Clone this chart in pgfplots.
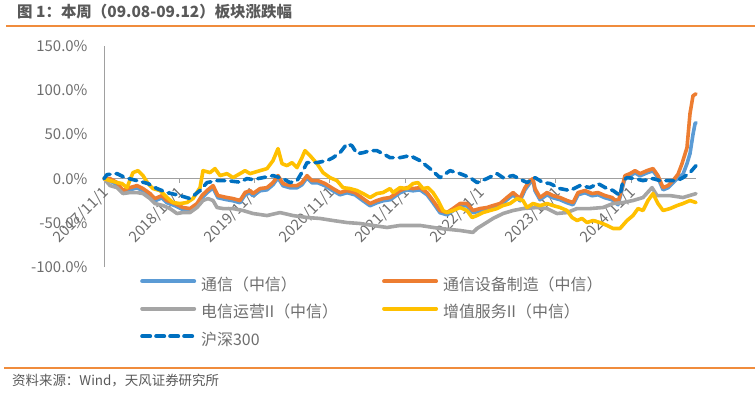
\documentclass[border=0pt]{standalone}
\usepackage{fontspec}
\setmainfont{Noto Sans CJK SC}
\usepackage{pgfplots}
\pgfplotsset{compat=1.18}
\definecolor{ctx}{HTML}{5B9BD5}
\definecolor{csb}{HTML}{ED7D31}
\definecolor{cdx}{HTML}{A5A5A5}
\definecolor{czz}{HTML}{FFC000}
\definecolor{chs}{HTML}{0070C0}
\definecolor{axgray}{HTML}{A0A0A0}
\definecolor{lblgray}{HTML}{6E6E6E}
\definecolor{titlegray}{HTML}{595959}
\definecolor{rule}{HTML}{F08C3C}
\begin{document}
\begin{tikzpicture}[x=1bp,y=1bp]
\useasboundingbox (0,0) rectangle (755,392);
\node[anchor=west, inner sep=0pt, font=\fontsize{15.5}{15.5}\selectfont\bfseries, text=titlegray] at (17,380) {图 1：本周（09.08-09.12）板块涨跌幅};
\draw[rule, line width=2bp] (6,366) -- (755,366);
\draw[rule, line width=1.5bp] (4,24) -- (755,24);
\node[anchor=west, inner sep=0pt, font=\fontsize{13.5}{13.5}\selectfont, text=titlegray] at (12,11) {资料来源：Wind，天风证券研究所};
\begin{axis}[
  at={(104bp,125bp)}, anchor=south west,
  scale only axis, width=592bp, height=221bp,
  xmin=0, xmax=7.862, ymin=-100, ymax=150,
  axis x line=middle, axis y line=left,
  axis line style={-, draw=axgray, line width=1bp},
  hide obscured x ticks=false, hide obscured y ticks=false,
  xtick={0,1,2,3,4,5,6,7},
  xticklabels={2017/11/1,2018/11/1,2019/11/1,2020/11/1,2021/11/1,2022/11/1,2023/11/1,2024/11/1},
  ytick={-100,-50,0,50,100,150},
  yticklabels={-100.0\%,-50.0\%,0.0\%,50.0\%,100.0\%,150.0\%},
  ytick style={draw=none},
  xtick style={draw=axgray, line width=1bp},
  tick align=outside, major tick length=4bp,
  tick label style={font=\fontsize{15}{15}\selectfont, text=lblgray},
  xticklabel style={rotate=45, anchor=east, inner sep=1bp, yshift=-7bp, xshift=-3bp},
  yticklabel style={anchor=east, xshift=-9bp},
  clip=false,
  every axis plot/.append style={line width=3.6bp, line join=round, line cap=round},
  legend columns=2,
  legend style={at={(0.0608,-0.05)}, anchor=north west, draw=none, fill=none, inner sep=0pt,
    font=\fontsize{16}{16}\selectfont, text=lblgray,
    nodes={inner sep=0pt, text height=12bp, text depth=4bp},
    row sep=11.5bp,
    /tikz/every odd column/.append style={column sep=5bp},
    /tikz/every even column/.append style={column sep=44bp}},
  legend cell align=left,
  legend image code/.code={\draw[#1, line width=4bp] (0bp,5bp) -- (52bp,5bp);},
]
% 通信（中信）
\addplot[ctx] coordinates {
(0,0) (0.08,-2.5) (0.173,-7.0) (0.252,-16.0) (0.345,-12.7) (0.438,-10.4) (0.518,-13.8) (0.611,-19.4) (0.677,-25.1) (0.770,-21.7) (0.837,-27.3) (0.943,-30.7) (1.049,-35.2) (1.142,-36.4) (1.235,-30.7) (1.301,-21.7) (1.368,-16.0) (1.448,-10.4) (1.514,-21.7) (1.633,-23.9) (1.713,-25.1) (1.806,-27.3) (1.873,-18.3) (1.939,-16.0) (1.979,-19.4) (2.072,-13.8) (2.165,-12.7) (2.244,-7.0) (2.311,0.9) (2.377,-8.1) (2.470,-10.4) (2.563,-10.4) (2.629,-7.0) (2.696,0.9) (2.762,-4.8) (2.842,-4.8) (2.935,-8.1) (3.041,-13.8) (3.134,-18.3) (3.227,-16.0) (3.333,-18.3) (3.440,-25.1) (3.533,-30.7) (3.625,-27.3) (3.705,-25.1) (3.798,-23.9) (3.838,-21.7) (3.931,-16.0) (4.024,-12.7) (4.104,-13.8) (4.197,-12.7) (4.290,-18.3) (4.369,-27.3) (4.462,-38.6) (4.555,-40.9) (4.635,-36.4) (4.728,-30.7) (4.821,-30.7) (4.900,-38.6) (4.993,-36.4) (5.086,-35.2) (5.166,-33.0) (5.259,-30.7) (5.352,-23.9) (5.432,-18.3) (5.525,-25.1) (5.591,-12.7) (5.657,-4.8) (5.697,-2.5) (5.724,-13.8) (5.790,-23.9) (5.883,-18.3) (5.963,-21.7) (6.056,-23.9) (6.149,-27.3) (6.228,-29.6) (6.295,-18.3) (6.388,-16.0) (6.481,-19.4) (6.560,-18.3) (6.653,-21.7) (6.746,-23.9) (6.826,-29.6) (6.879,-12.7) (6.919,0.9) (6.985,3.1) (7.052,6.5) (7.118,3.1) (7.211,6.5) (7.291,8.8) (7.357,0.9) (7.424,-12.7) (7.490,-10.4) (7.556,-4.8) (7.623,1.0) (7.689,5.0) (7.742,16.9) (7.782,28.2) (7.822,50.0) (7.849,62.1) (7.862,63.2)
};
\addlegendentry{通信（中信）}
% 通信设备制造（中信）
\addplot[csb] coordinates {
(0,0) (0.08,0) (0.173,-4.5) (0.252,-13.5) (0.345,-10.2) (0.438,-7.9) (0.518,-11.3) (0.611,-16.9) (0.677,-22.6) (0.770,-19.2) (0.837,-24.8) (0.943,-28.2) (1.049,-32.7) (1.142,-33.9) (1.235,-28.2) (1.301,-19.2) (1.368,-13.5) (1.448,-7.9) (1.514,-19.2) (1.633,-21.4) (1.713,-22.6) (1.806,-24.8) (1.873,-15.8) (1.939,-13.5) (1.979,-16.9) (2.072,-11.3) (2.165,-10.2) (2.244,-4.5) (2.311,3.4) (2.377,-5.6) (2.470,-7.9) (2.563,-7.9) (2.629,-4.5) (2.696,3.4) (2.762,-2.3) (2.842,-2.3) (2.935,-5.6) (3.041,-11.3) (3.134,-15.8) (3.227,-13.5) (3.333,-15.8) (3.440,-22.6) (3.533,-28.2) (3.625,-24.8) (3.705,-22.6) (3.798,-21.4) (3.838,-19.2) (3.931,-13.5) (4.024,-10.2) (4.104,-11.3) (4.197,-10.2) (4.290,-15.8) (4.369,-24.8) (4.462,-36.1) (4.555,-38.4) (4.635,-33.9) (4.728,-28.2) (4.821,-28.2) (4.900,-36.1) (4.993,-33.9) (5.086,-32.7) (5.166,-30.5) (5.259,-28.2) (5.352,-21.4) (5.432,-15.8) (5.525,-22.6) (5.591,-10.2) (5.657,-2.3) (5.697,0) (5.724,-11.3) (5.790,-21.4) (5.883,-15.8) (5.963,-19.2) (6.056,-21.4) (6.149,-24.8) (6.228,-27.1) (6.295,-15.8) (6.388,-13.5) (6.481,-16.9) (6.560,-15.8) (6.653,-19.2) (6.746,-21.4) (6.826,-27.1) (6.879,-10.2) (6.919,3.4) (6.985,5.6) (7.052,9.0) (7.118,5.6) (7.211,9.0) (7.291,11.3) (7.357,3.4) (7.424,-10.2) (7.490,-7.9) (7.556,-2.3) (7.623,5.0) (7.676,16.9) (7.742,35.0) (7.782,73.4) (7.822,93.7) (7.862,95.9)
};
\addlegendentry{通信设备制造（中信）}
% 电信运营II（中信）
\addplot[cdx] coordinates {
(0,0) (0.08,-7.9) (0.173,-10.2) (0.252,-16.9) (0.345,-15.8) (0.438,-15.8) (0.518,-16.9) (0.611,-22.6) (0.677,-28.2) (0.784,-30.5) (0.876,-33.9) (0.969,-39.5) (1.049,-38.4) (1.142,-38.4) (1.235,-32.7) (1.315,-24.8) (1.381,-22.6) (1.448,-24.8) (1.501,-32.7) (1.580,-33.9) (1.713,-33.9) (1.846,-36.1) (1.979,-39.5) (2.165,-41.8) (2.337,-38.4) (2.510,-41.8) (2.696,-44.0) (2.869,-45.1) (3.041,-47.4) (3.227,-49.7) (3.400,-50.8) (3.572,-53.0) (3.758,-55.3) (3.931,-53.0) (4.197,-53.0) (4.462,-56.4) (4.728,-58.7) (4.900,-60.9) (4.954,-56.4) (5.060,-50.8) (5.166,-45.1) (5.299,-39.5) (5.432,-36.1) (5.564,-33.9) (5.750,-32.7) (5.883,-33.9) (6.016,-39.5) (6.149,-38.4) (6.282,-33.9) (6.454,-33.9) (6.627,-32.7) (6.760,-28.2) (6.892,-27.1) (7.025,-24.8) (7.158,-21.4) (7.278,-10.2) (7.344,-19.2) (7.517,-19.2) (7.689,-21.4) (7.862,-17.0)
};
\addlegendentry{电信运营II（中信）}
% 增值服务II（中信）
\addplot[czz] coordinates {
(0,0) (0.08,-2.3) (0.173,-4.5) (0.239,-5.6) (0.305,-10.2) (0.385,6.8) (0.452,9.0) (0.518,3.4) (0.584,-5.6) (0.651,-11.3) (0.744,-13.5) (0.837,-21.4) (0.916,-27.1) (1.009,-28.2) (1.102,-27.1) (1.182,-22.6) (1.275,-10.2) (1.315,9.0) (1.408,6.8) (1.474,11.3) (1.541,3.4) (1.633,5.6) (1.713,1.1) (1.806,5.6) (1.873,9.0) (1.939,5.6) (2.072,9.0) (2.165,11.3) (2.244,20.3) (2.311,33.9) (2.364,16.9) (2.430,14.7) (2.497,18.1) (2.563,12.4) (2.629,23.7) (2.669,31.6) (2.736,26.0) (2.829,16.9) (2.908,6.8) (3.001,1.1) (3.094,-2.3) (3.174,-10.2) (3.267,-11.3) (3.360,-13.5) (3.440,-16.9) (3.533,-21.4) (3.625,-16.9) (3.705,-15.8) (3.798,-11.3) (3.838,-15.8) (3.931,-10.2) (4.024,-11.3) (4.104,-5.6) (4.170,-4.5) (4.236,-11.3) (4.303,-10.2) (4.369,-15.8) (4.436,-24.8) (4.502,-36.1) (4.555,-38.4) (4.635,-36.1) (4.728,-32.7) (4.821,-36.1) (4.887,-44.0) (4.954,-41.8) (5.033,-38.4) (5.126,-36.1) (5.219,-33.9) (5.299,-30.5) (5.392,-28.2) (5.485,-22.6) (5.564,-24.8) (5.618,-32.7) (5.697,-28.2) (5.790,-30.5) (5.883,-28.2) (5.963,-30.5) (6.056,-32.7) (6.149,-36.1) (6.215,-44.0) (6.282,-47.4) (6.348,-45.1) (6.414,-49.7) (6.494,-47.4) (6.587,-49.7) (6.680,-53.0) (6.760,-56.4) (6.853,-56.4) (6.946,-47.4) (7.025,-41.8) (7.092,-33.9) (7.158,-36.1) (7.224,-24.8) (7.291,-16.9) (7.357,-28.2) (7.424,-36.1) (7.517,-33.9) (7.610,-30.5) (7.689,-28.2) (7.782,-24.8) (7.862,-27.1)
};
\addlegendentry{增值服务II（中信）}
% 沪深300
\addplot[chs, dash pattern=on 8bp off 6bp] coordinates {
(0,0) (0.04,4.5) (0.173,5.6) (0.279,1.1) (0.438,-2.3) (0.584,-5.6) (0.704,-11.3) (0.837,-15.8) (1.009,-19.2) (1.142,-22.6) (1.275,-13.5) (1.368,-4.5) (1.501,-2.3) (1.633,-2.3) (1.806,-4.0) (1.899,0) (1.979,-1.1) (2.112,1.1) (2.244,3.4) (2.377,0) (2.470,-4.5) (2.563,-2.3) (2.643,9.0) (2.696,18.1) (2.829,18.1) (2.961,20.3) (3.041,23.7) (3.134,29.3) (3.227,39.5) (3.293,37.2) (3.360,28.2) (3.440,29.3) (3.533,31.6) (3.625,31.6) (3.705,28.2) (3.798,23.7) (3.931,23.7) (4.064,26.0) (4.197,20.3) (4.329,11.3) (4.462,1.1) (4.595,9.0) (4.728,5.6) (4.861,1.1) (4.954,-4.5) (5.086,0) (5.219,5.6) (5.299,1.1) (5.432,3.4) (5.564,-2.3) (5.618,-4.5) (5.724,1.1) (5.830,-4.5) (5.923,-5.6) (6.056,-11.3) (6.189,-13.5) (6.321,-7.9) (6.454,-10.2) (6.560,-5.6) (6.680,-11.3) (6.760,-13.5) (6.853,-19.2) (6.892,-2.3) (6.946,1.1) (7.052,0) (7.158,-2.3) (7.291,0) (7.384,-2.3) (7.490,-2.3) (7.610,-2.3) (7.689,1.1) (7.782,6.8) (7.862,14.7)
};
\addlegendentry{沪深300}
\end{axis}
\end{tikzpicture}
\end{document}
